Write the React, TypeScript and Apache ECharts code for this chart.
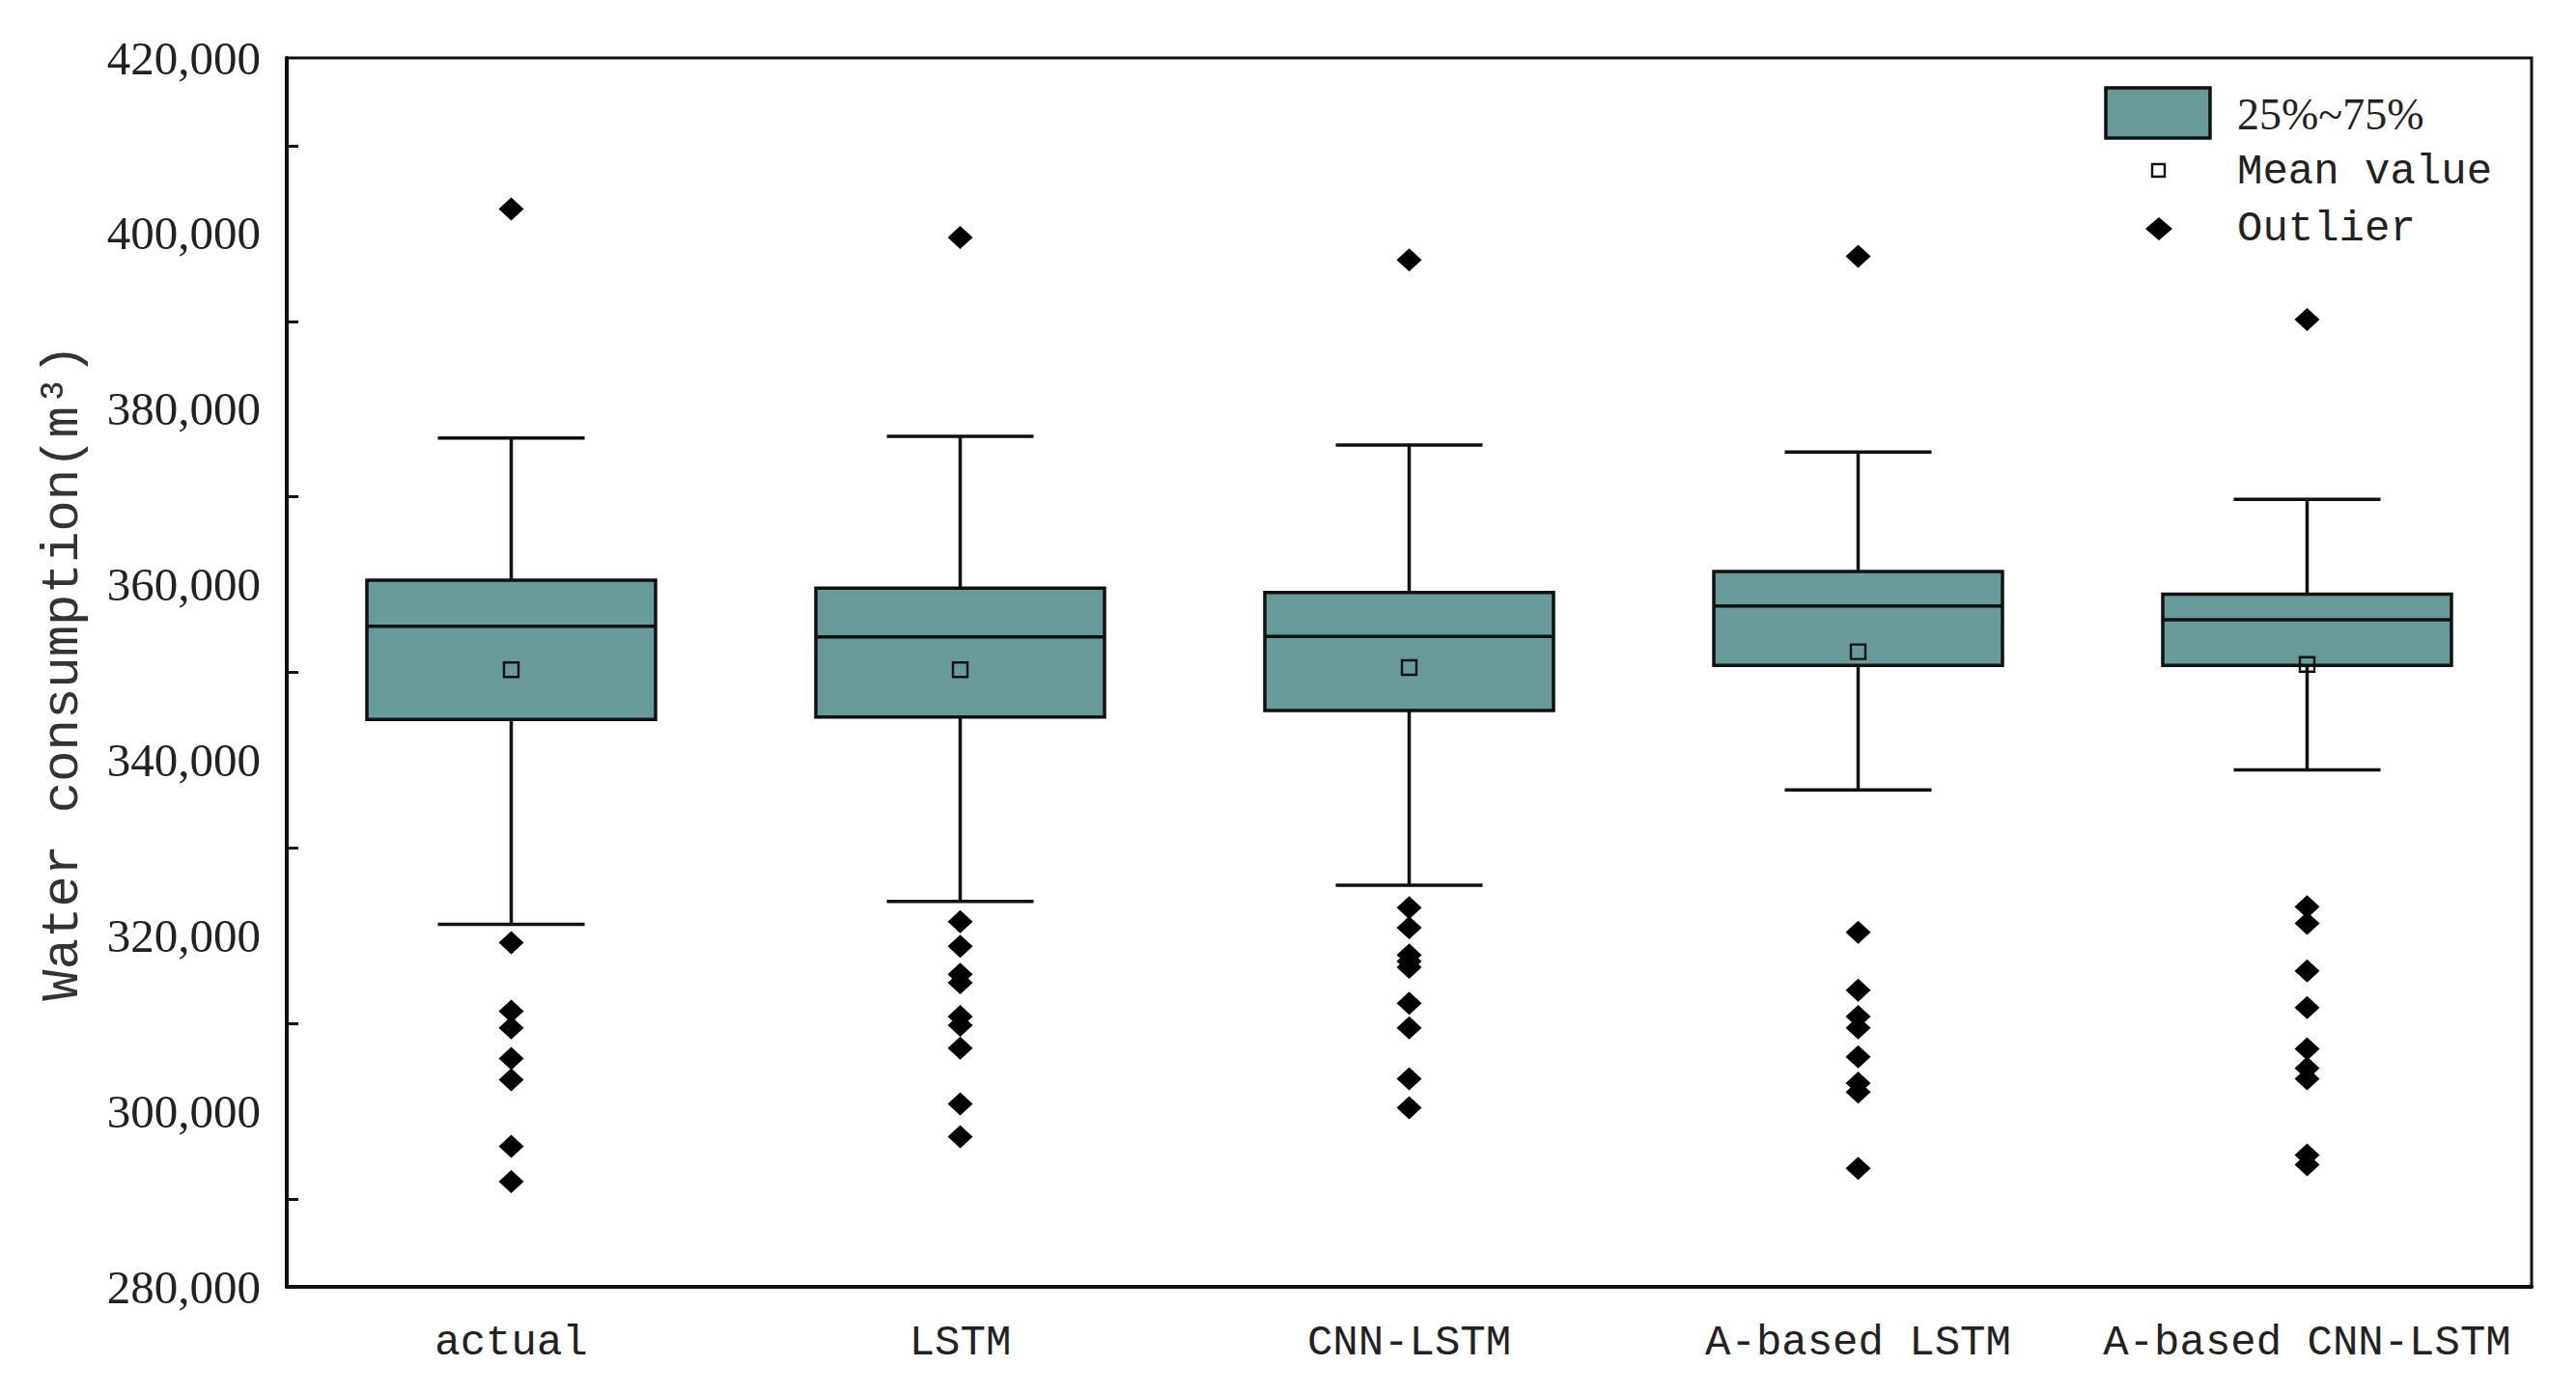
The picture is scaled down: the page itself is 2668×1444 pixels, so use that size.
import React, { useEffect, useRef } from "react";
import * as echarts from "echarts";

const categories = ["actual", "LSTM", "CNN-LSTM", "A-based LSTM", "A-based CNN-LSTM"];
const whiskerLow = [321300, 323900, 325750, 336600, 338900];
const quartile1 = [344650, 344900, 345650, 350800, 350800];
const medians = [355250, 354050, 354100, 357550, 356000];
const quartile3 = [360500, 359600, 359100, 361500, 358900];
const whiskerHigh = [376700, 376900, 375900, 375100, 369700];
const means = [350300, 350300, 350550, 352350, 350900];

const outliersActual = [402800, 319200, 311400, 309500, 306000, 303600, 296000, 292000];
const outliersLSTM = [399550, 321600, 318800, 315600, 314650, 310800, 309800, 307200, 300850, 297100];
const outliersCNNLSTM = [397000, 323200, 320900, 317800, 317100, 316400, 312300, 309500, 303700, 300400];
const outliersALSTM = [397400, 320400, 313800, 310800, 309500, 306200, 303200, 302200, 293500];
const outliersACNNLSTM = [390200, 323300, 321400, 316000, 311800, 307100, 304900, 303700, 295000, 293900];

const yTicks = { min: 280000, max: 420000, interval: 20000 };
const legendLabels = ["25%~75%", "Mean value", "Outlier"];

const TEAL = "#679b99";
const INK = "#111111";

export default function App() {
  const ref = useRef<HTMLDivElement>(null);

  useEffect(() => {
    document.body.style.margin = "0";
    document.body.style.overflow = "hidden";
    const chart = echarts.init(ref.current!, null, { renderer: "svg" });

    const boxData = categories.map((_, i) => [
      i,
      whiskerLow[i],
      quartile1[i],
      medians[i],
      quartile3[i],
      whiskerHigh[i],
    ]);
    const meanData = means.map((m, i) => [i, m]);
    const allOutliers = [outliersActual, outliersLSTM, outliersCNNLSTM, outliersALSTM, outliersACNNLSTM];
    const outlierData: number[][] = [];
    allOutliers.forEach((arr, i) => arr.forEach((v) => outlierData.push([i, v])));

    const option: any = {
      animation: false,
      backgroundColor: "#ffffff",
      grid: {
        left: 297,
        right: 46,
        top: 60,
        bottom: 111,
        show: true,
        borderColor: INK,
        borderWidth: 3,
      },
      xAxis: {
        type: "category",
        data: categories,
        boundaryGap: true,
        axisLine: { lineStyle: { color: INK, width: 4 } },
        axisTick: {
          alignWithLabel: true,
          inside: true,
          interval: 0,
          length: 22,
          lineStyle: { color: INK, width: 2.5 },
        },
        axisLabel: {
          interval: 0,
          fontFamily: "Liberation Mono",
          fontSize: 44,
          color: "#222",
          margin: 36,
        },
        splitLine: { show: false },
      },
      yAxis: {
        type: "value",
        min: yTicks.min,
        max: yTicks.max,
        interval: yTicks.interval,
        name: "Water consumption(m³)",
        nameLocation: "middle",
        nameGap: 205,
        nameTextStyle: {
          fontFamily: "Liberation Mono",
          fontSize: 54,
          color: "#333",
        },
        axisLine: { show: true, lineStyle: { color: INK, width: 4 } },
        axisTick: {
          inside: true,
          length: 25,
          lineStyle: { color: INK, width: 3 },
        },
        minorTick: {
          show: true,
          splitNumber: 2,
          length: 12,
          lineStyle: { color: INK, width: 3 },
        },
        axisLabel: {
          fontFamily: "Liberation Serif",
          fontSize: 49,
          color: "#222",
          margin: 27,
          formatter: (v: number) => v.toLocaleString("en-US"),
        },
        splitLine: { show: false },
        minorSplitLine: { show: false },
      },
      series: [
        {
          type: "custom",
          name: "box",
          data: boxData,
          encode: { x: 0, y: [1, 2, 3, 4, 5] },
          z: 2,
          renderItem: (params: any, api: any) => {
            const idx = api.value(0);
            const lo = api.coord([idx, api.value(1)]);
            const q1 = api.coord([idx, api.value(2)]);
            const md = api.coord([idx, api.value(3)]);
            const q3 = api.coord([idx, api.value(4)]);
            const hi = api.coord([idx, api.value(5)]);
            const band = api.size([1, 0])[0];
            const bw = band * 0.643;
            const cw = band * 0.327;
            const x = lo[0];
            const ls = { stroke: INK, lineWidth: 3.5, fill: null };
            return {
              type: "group",
              children: [
                { type: "line", shape: { x1: x, y1: hi[1], x2: x, y2: q3[1] }, style: ls },
                { type: "line", shape: { x1: x, y1: q1[1], x2: x, y2: lo[1] }, style: ls },
                { type: "line", shape: { x1: x - cw / 2, y1: hi[1], x2: x + cw / 2, y2: hi[1] }, style: ls },
                { type: "line", shape: { x1: x - cw / 2, y1: lo[1], x2: x + cw / 2, y2: lo[1] }, style: ls },
                {
                  type: "rect",
                  shape: { x: x - bw / 2, y: q3[1], width: bw, height: q1[1] - q3[1] },
                  style: { fill: TEAL, stroke: INK, lineWidth: 3.5 },
                },
                { type: "line", shape: { x1: x - bw / 2, y1: md[1], x2: x + bw / 2, y2: md[1] }, style: ls },
              ],
            };
          },
        },
        {
          type: "scatter",
          name: "Mean value",
          data: meanData,
          symbol: "rect",
          symbolSize: 15,
          z: 3,
          itemStyle: { color: "rgba(0,0,0,0)", borderColor: "#111", borderWidth: 2.4, opacity: 1 },
        },
        {
          type: "scatter",
          name: "Outlier",
          data: outlierData,
          symbol: "diamond",
          symbolSize: [26, 24],
          z: 3,
          itemStyle: { color: "#000", opacity: 1 },
        },
      ],
      graphic: [
        {
          type: "rect",
          shape: { x: 2181, y: 91, width: 108, height: 52 },
          style: { fill: TEAL, stroke: INK, lineWidth: 3.5 },
        },
        {
          type: "rect",
          shape: { x: 2229, y: 170, width: 13, height: 13 },
          style: { fill: "#fff", stroke: "#111", lineWidth: 2.4 },
        },
        {
          type: "polygon",
          shape: { points: [[2236, 225], [2250, 237], [2236, 249], [2222, 237]] },
          style: { fill: "#000" },
        },
        {
          type: "text",
          x: 2317,
          y: 118,
          style: {
            text: legendLabels[0],
            font: "46px 'Liberation Serif'",
            fill: "#222",
            verticalAlign: "middle",
            align: "left",
          },
        },
        {
          type: "text",
          x: 2317,
          y: 178,
          style: {
            text: legendLabels[1],
            font: "44px 'Liberation Mono'",
            fill: "#222",
            verticalAlign: "middle",
            align: "left",
          },
        },
        {
          type: "text",
          x: 2317,
          y: 237,
          style: {
            text: legendLabels[2],
            font: "44px 'Liberation Mono'",
            fill: "#222",
            verticalAlign: "middle",
            align: "left",
          },
        },
      ],
    };

    chart.setOption(option);
    return () => chart.dispose();
  }, []);

  return <div ref={ref} style={{ width: 2668, height: 1444 }} />;
}
